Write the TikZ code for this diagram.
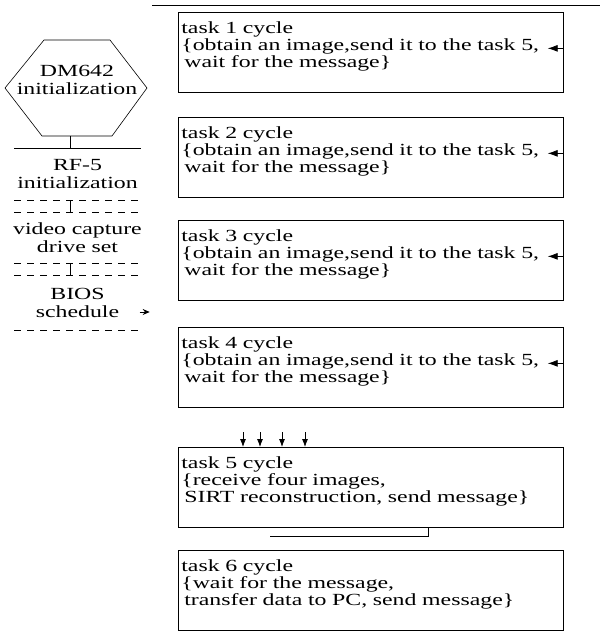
\documentclass[tikz,border=0pt]{standalone}
\usepackage{fontspec}
\setmainfont{Liberation Serif}[FakeStretch=1.4]
\usepackage{tikz}
\usetikzlibrary{arrows.meta,calc}

\begin{document}
\begin{tikzpicture}[x=1pt,y=-1pt,>={Stealth[length=7pt,width=6pt]},
  initbox/.style={font=\fontsize{17}{18}\selectfont, align=center, text width=140pt, inner sep=0pt},
  taskbox/.style={draw, line width=0.7pt, anchor=north west, font=\fontsize{17}{17}\selectfont,
    align=left, text width=379pt, inner xsep=3pt, inner ysep=9pt, text height=12pt, text depth=50pt},
  faint/.style={line width=0.5pt, dash pattern=on 7pt off 6pt}]
  \useasboundingbox (0,0) rectangle (600,638);

  % start-up chain
  \node[initbox] (dm) at (77,80) {DM642\\initialization};
  \draw[line width=0.6pt, shift={(dm.center)}] (-33,-40) -- (33,-40) -- (70,8) -- (35,56) -- (-35,56) -- (-72,8) -- cycle;
  \node[initbox, minimum height=52pt] (rf) at (77.5,174) {RF-5\\initialization};
  \node[initbox, minimum height=51pt] (vid) at (77.5,237.5) {video capture\\drive set};
  \node[initbox, minimum height=55pt] (bios) at (77.5,302.5) {BIOS\\schedule};
  \draw[line width=0.6pt] ([xshift=7pt]rf.north west) -- ([xshift=-7pt]rf.north east);
  \draw[faint] ([xshift=7pt]rf.south west) -- ([xshift=-7pt]rf.south east);
  \foreach \n in {vid,bios} \draw[faint] ([xshift=7pt]\n.north west) -- ([xshift=-7pt]\n.north east) ([xshift=7pt]\n.south west) -- ([xshift=-7pt]\n.south east);
  \coordinate (dmbot) at (70,136);
  \draw (dmbot) -- (dmbot |- rf.north);
  \draw ([xshift=-7.5pt]rf.south) -- ([xshift=-7.5pt]vid.north);
  \draw ([xshift=-7.5pt]vid.south) -- ([xshift=-7.5pt]bios.north);
  \draw[->, line width=0.8pt] ([xshift=-8pt,yshift=-9.5pt]bios.east) -- ++(10,0);

  % bus over the tasks
  \coordinate (busw) at (152,5);
  \coordinate (buse) at (600,5);
  \draw[line width=0.7pt] (busw) -- (buse);

  % task loops
  \foreach \i/\y in {1/12,2/117,3/220,4/327}
    \node[taskbox] (t\i) at (178,\y) {task \i\ cycle\\\{obtain an image,send it to the task 5,\\\hspace*{3pt}wait for the message\}};
  \node[taskbox] (t5) at (178,447) {task 5 cycle\\\{receive four images,\\\hspace*{3pt}SIRT reconstruction, send message\}};
  \node[taskbox] (t6) at (178,550) {task 6 cycle\\\{wait for the message,\\\hspace*{3pt}transfer data to PC, send message\}};

  \foreach \i in {1,...,4} \draw[-{Latex[length=10pt,width=7pt]}, line width=0.8pt] ([yshift=4pt]t\i.east) -- ++(-16,0);
  \foreach \x in {65,82,104,127} \draw[-{Latex[length=8pt,width=6pt]}, line width=0.8pt] ($(t5.north west)+(\x,-15)$) -- ($(t5.north west)+(\x,0)$);
  \draw ($(t5.south west)+(250,0)$) -- ++(0,8) -- ++(-158,0);
\end{tikzpicture}
\end{document}
